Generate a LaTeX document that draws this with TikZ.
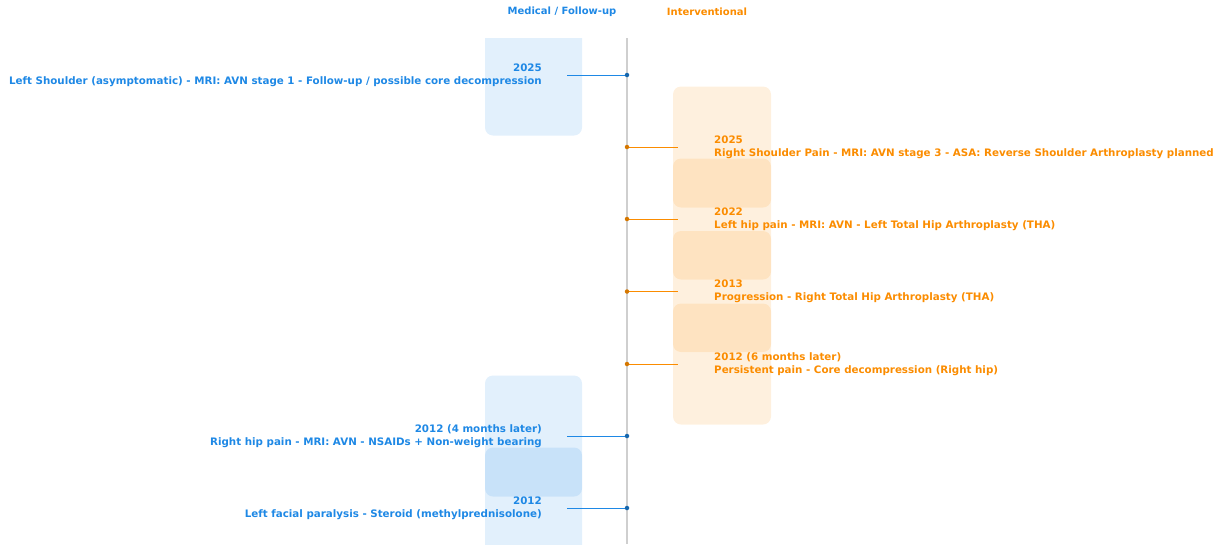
\documentclass[tikz,border=0pt]{standalone}
\usepackage{fontspec}
\setmainfont{DejaVu Sans}
\usetikzlibrary{positioning}
\definecolor{med}{HTML}{1E88E5}
\definecolor{interv}{HTML}{FB8C00}
\definecolor{axisgray}{HTML}{CFCFCF}

\begin{document}
\begin{tikzpicture}[
    x=1pt, y=-1pt,
    medtxt/.style={anchor=east, align=right, inner sep=0pt, text=med,
                   font=\bfseries\fontsize{10.3}{13}\selectfont},
    inttxt/.style={anchor=west, align=left, inner sep=0pt, text=interv,
                   font=\bfseries\fontsize{10.3}{13}\selectfont},
    head/.style={inner sep=0pt, font=\bfseries\fontsize{10}{12}\selectfont},
    medband/.style={fill=med, fill opacity=0.13, rounded corners=8pt},
    intband/.style={fill=interv, fill opacity=0.13, rounded corners=8pt},
    meddot/.style={circle, fill=med!75!black, inner sep=0pt, minimum size=4.5pt},
    intdot/.style={circle, fill=interv!85!black, inner sep=0pt, minimum size=4.5pt},
    medline/.style={draw=med, line width=1pt},
    intline/.style={draw=interv, line width=1pt},
    axisline/.style={draw=axisgray, line width=1.5pt},
]
\useasboundingbox (0,0) rectangle (1218,544);

% background bands, clipped to the plot area
\begin{scope}
  \clip (0,38) rectangle (1218,544);
  \fill[medband] (485,14.5) rectangle (582,135.5);
  \fill[medband] (485,375.5) rectangle (582,496.5);
  \fill[medband] (485,447.5) rectangle (582,568.5);
  \fill[intband] (673,86.5) rectangle (771,207.5);
  \fill[intband] (673,158.5) rectangle (771,279.5);
  \fill[intband] (673,231) rectangle (771,352);
  \fill[intband] (673,303.5) rectangle (771,424.5);
\end{scope}

% column titles
\node[head, text=med] (medhead) at (562,12) {Medical / Follow-up};
\node[head, text=interv] (inthead) at (707,12) {Interventional};

% time axis
\coordinate (axtop) at (627,38);
\coordinate (axbot) at (627,544);
\draw[axisline] (axtop) -- (axbot);

% medical / follow-up events
\node[medtxt] (m1) at (542,75) {2025\\Left Shoulder (asymptomatic) - MRI: AVN stage 1 - Follow-up / possible core decompression};
\node[medtxt] (m2) at (542,436) {2012 (4 months later)\\Right hip pain - MRI: AVN - NSAIDs + Non-weight bearing};
\node[medtxt] (m3) at (542,508) {2012\\Left facial paralysis - Steroid (methylprednisolone)};

\coordinate (m1e) at (567,75);
\coordinate (m2e) at (567,436);
\coordinate (m3e) at (567,508);

\draw[medline] (m1e) -- (627,75);
\draw[medline] (m2e) -- (627,436);
\draw[medline] (m3e) -- (627,508);

\node[meddot] (md1) at (627,75) {};
\node[meddot] (md2) at (627,436) {};
\node[meddot] (md3) at (627,508) {};

% interventional events
\node[inttxt] (i1) at (714,147) {2025\\Right Shoulder Pain - MRI: AVN stage 3 - ASA: Reverse Shoulder Arthroplasty planned};
\node[inttxt] (i2) at (714,219) {2022\\Left hip pain - MRI: AVN - Left Total Hip Arthroplasty (THA)};
\node[inttxt] (i3) at (714,291.5) {2013\\Progression - Right Total Hip Arthroplasty (THA)};
\node[inttxt] (i4) at (714,364) {2012 (6 months later)\\Persistent pain - Core decompression (Right hip)};

\coordinate (i1e) at (678,147);
\coordinate (i2e) at (678,219);
\coordinate (i3e) at (678,291.5);
\coordinate (i4e) at (678,364);

\draw[intline] (627,147) -- (i1e);
\draw[intline] (627,219) -- (i2e);
\draw[intline] (627,291.5) -- (i3e);
\draw[intline] (627,364) -- (i4e);

\node[intdot] (id1) at (627,147) {};
\node[intdot] (id2) at (627,219) {};
\node[intdot] (id3) at (627,291.5) {};
\node[intdot] (id4) at (627,364) {};

\end{tikzpicture}
\end{document}
